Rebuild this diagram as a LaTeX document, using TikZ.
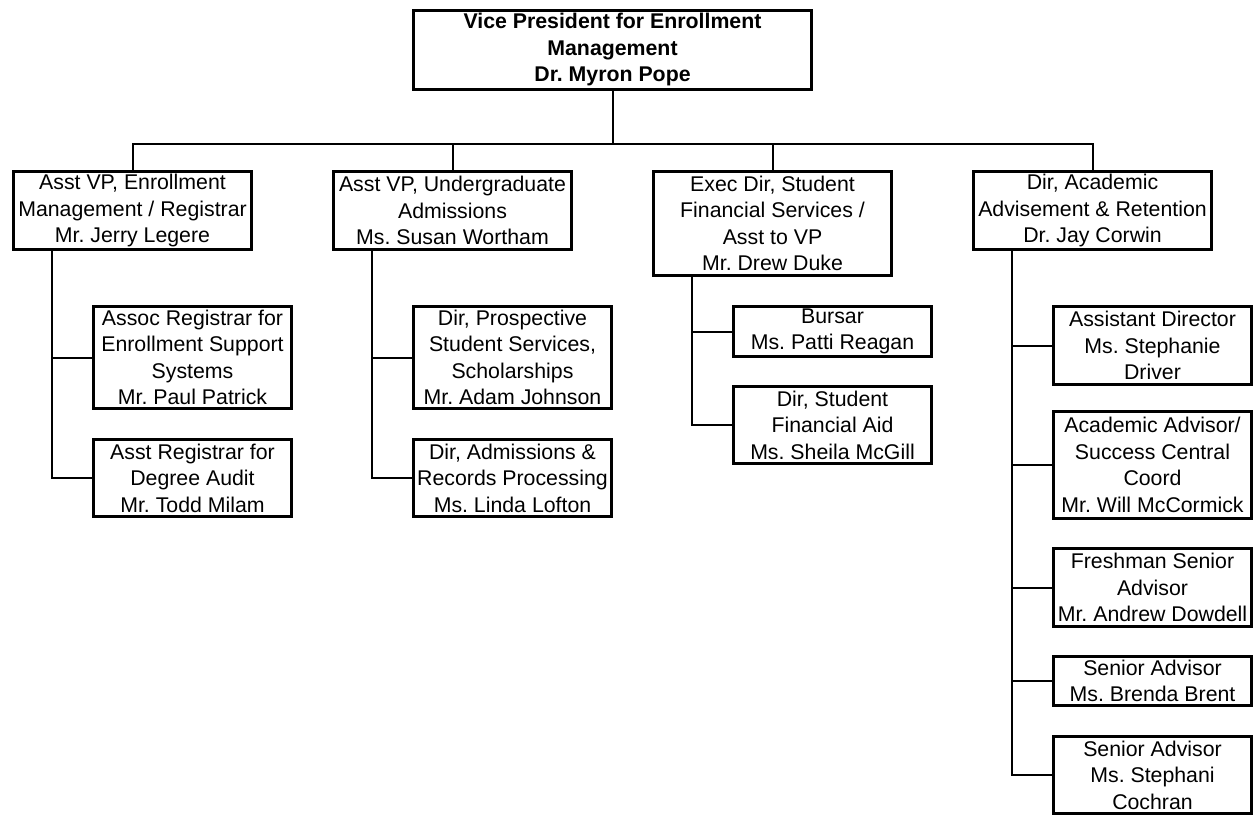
\documentclass[tikz,border=0pt]{standalone}
\usepackage{fontspec}
\setmainfont{Liberation Sans}
\usepackage{tikz}
\usetikzlibrary{positioning,calc}
\newcommand{\orgfont}{\fontsize{21.3}{26.5}\selectfont}
\frenchspacing

\begin{document}
\begin{tikzpicture}[x=1pt, y=-1pt,
    box/.style={draw, line width=3pt, align=center, inner sep=0pt, font=\orgfont},
    headbox/.style={box, minimum width=238pt},
    subbox/.style={box, minimum width=198pt},
    wire/.style={line width=2pt}]
    \useasboundingbox (0,0) rectangle (1257,817);
    % top
    \node[box, minimum width=398pt, minimum height=79pt, font=\orgfont\bfseries] (vp) at (612.5,49.5)
        {Vice President for Enrollment\\Management\\Dr. Myron Pope};
    % second row
    \node[headbox, minimum height=78pt] (reg) at (132.5,210.5) {Asst VP, Enrollment\\Management / Registrar\\Mr. Jerry Legere};
    \node[headbox, minimum height=78pt] (adm) at (452.5,210.5) {Asst VP, Undergraduate\\Admissions\\Ms. Susan Wortham};
    \node[headbox, minimum height=104pt] (fin) at (772.5,223.5) {Exec Dir, Student\\Financial Services /\\Asst to VP\\Mr. Drew Duke};
    \node[headbox, minimum height=78pt] (adv) at (1092.5,210.5) {Dir, Academic\\Advisement \& Retention\\Dr. Jay Corwin};
    % registrar staff
    \node[subbox, minimum height=102pt] (assoc) at (192.5,357.5) {Assoc Registrar for\\Enrollment Support\\Systems\\Mr. Paul Patrick};
    \node[subbox, minimum height=77pt] (audit) at (192.5,478) {Asst Registrar for\\Degree Audit\\Mr. Todd Milam};
    % admissions staff
    \node[subbox, minimum height=102pt] (prosp) at (512.5,357.5) {Dir, Prospective\\Student Services,\\Scholarships\\Mr. Adam Johnson};
    \node[subbox, minimum height=77pt] (recs) at (512.5,478) {Dir, Admissions \&\\Records Processing\\Ms. Linda Lofton};
    % financial staff
    \node[subbox, minimum height=50pt] (bursar) at (832.5,331.5) {Bursar\\Ms. Patti Reagan};
    \node[subbox, minimum height=77pt] (aid) at (832.5,425) {Dir, Student\\Financial Aid\\Ms. Sheila McGill};
    % advisement staff
    \node[subbox, minimum height=78pt] (asstdir) at (1152.5,345.5) {Assistant Director\\Ms. Stephanie\\Driver};
    \node[subbox, minimum height=107pt] (success) at (1152.5,465) {Academic Advisor/\\Success Central\\Coord\\Mr. Will McCormick};
    \node[subbox, minimum height=78pt] (fresh) at (1152.5,587.5) {Freshman Senior\\Advisor\\Mr. Andrew Dowdell};
    \node[subbox, minimum height=49pt] (brent) at (1152.5,681) {Senior Advisor\\Ms. Brenda Brent};
    \node[subbox, minimum height=77pt] (cochran) at (1152.5,775) {Senior Advisor\\Ms. Stephani\\Cochran};
    % bus under the vp
    \coordinate (bus) at ([yshift=-53pt]vp.south);
    \draw[wire] (vp.south) -- (bus);
    \foreach \n in {reg, adm, fin, adv}
        \draw[wire] (bus) -| (\n.north);
    % trunks
    \foreach \p/\c in {reg/assoc, reg/audit, adm/prosp, adm/recs, fin/bursar, fin/aid,
                       adv/asstdir, adv/success, adv/fresh, adv/brent, adv/cochran}
        \draw[wire] ([xshift=40pt]\p.south west) |- (\c.west);
\end{tikzpicture}
\end{document}
